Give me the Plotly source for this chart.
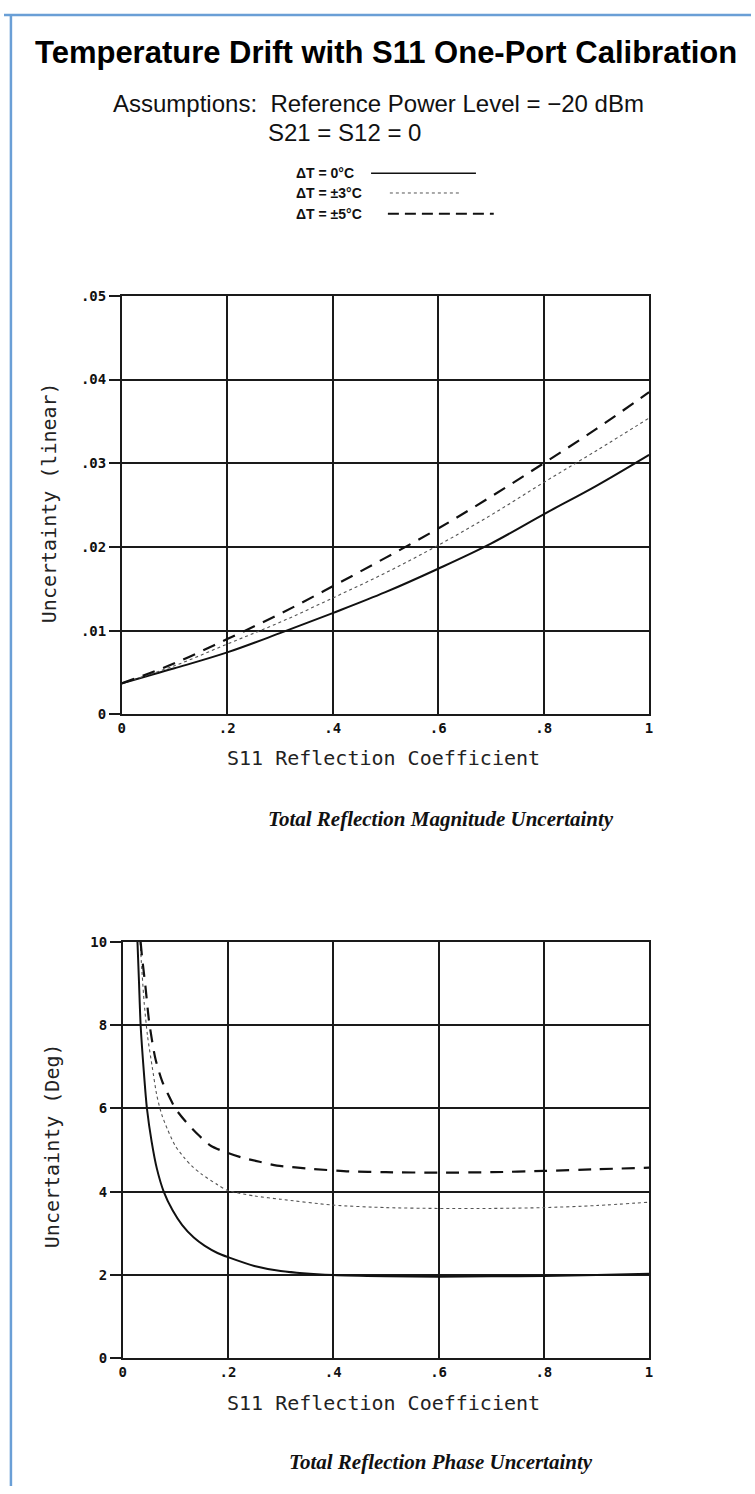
import plotly.graph_objects as go

# ---------------- data ----------------
mag_x = [0, .1, .2, .3, .4, .5, .6, .7, .8, .9, 1.0]
mag_dt0 = [.0037, .0055, .0074, .0097, .0121, .0146, .0174, .0204, .0239, .0273, .0310]
mag_dt3 = [.0037, .0058, .0084, .0110, .0139, .0169, .0202, .0238, .0277, .0315, .0354]
mag_dt5 = [.0037, .0061, .0090, .0120, .0153, .0187, .0222, .0260, .0300, .0341, .0385]

ph_x0 = [.028, .031, .034, .040, .046, .055, .065, .078, .095, .113, .135, .156, .18, .2, .25, .3, .4, .5, .6, .7, .8, .9, 1.0]
ph_dt0 = [10, 9.0, 8.0, 6.9, 6.0, 5.2, 4.55, 4.0, 3.55, 3.2, 2.9, 2.7, 2.53, 2.43, 2.22, 2.1, 2.0, 1.97, 1.96, 1.97, 1.98, 2.0, 2.03]
ph_x3 = [.033, .037, .041, .047, .056, .065, .074, .085, .1, .118, .131, .149, .18, .2, .25, .3, .4, .5, .6, .7, .8, .9, 1.0]
ph_dt3 = [10, 9.2, 8.5, 7.75, 7.0, 6.3, 5.86, 5.5, 5.1, 4.8, 4.62, 4.43, 4.17, 4.03, 3.9, 3.82, 3.68, 3.62, 3.6, 3.6, 3.62, 3.67, 3.75]
ph_x5 = [.034, .037, .043, .05, .062, .075, .085, .1, .12, .145, .168, .2, .224, .26, .293, .36, .43, .5, .6, .7, .8, .9, 1.0]
ph_dt5 = [10, 9.6, 8.95, 8.1, 7.2, 6.65, 6.37, 6.0, 5.68, 5.35, 5.1, 4.93, 4.83, 4.72, 4.63, 4.55, 4.49, 4.47, 4.46, 4.47, 4.5, 4.54, 4.58]

x_tickvals = [0, .2, .4, .6, .8, 1]
x_ticktext = ["0", ".2", ".4", ".6", ".8", "1"]
mag_tickvals = [0, .01, .02, .03, .04, .05]
mag_ticktext = ["0", ".01", ".02", ".03", ".04", ".05"]
ph_tickvals = [0, 2, 4, 6, 8, 10]
ph_ticktext = ["0", "2", "4", "6", "8", "10"]

legend_labels = ["ΔT = 0°C", "ΔT = ±3°C", "ΔT = ±5°C"]

# ---------------- figure ----------------
W, H = 755, 1494
def px_x(p): return p / W
def px_y(p): return 1 - p / H

solid = dict(color="#111111", width=2)
dotted = dict(color="#555555", width=1.1, dash="dot")
dashed = dict(color="#111111", width=2.2, dash="13px,9px")

fig = go.Figure()
fig.add_trace(go.Scatter(x=mag_x, y=mag_dt0, mode="lines", line=dict(shape="spline", **solid), xaxis="x", yaxis="y", showlegend=False))
fig.add_trace(go.Scatter(x=mag_x, y=mag_dt3, mode="lines", line=dict(shape="spline", **dotted), xaxis="x", yaxis="y", showlegend=False))
fig.add_trace(go.Scatter(x=mag_x, y=mag_dt5, mode="lines", line=dict(shape="spline", **dashed), xaxis="x", yaxis="y", showlegend=False))

fig.add_trace(go.Scatter(x=ph_x0, y=ph_dt0, mode="lines", line=dict(shape="spline", smoothing=0.7, **solid), xaxis="x2", yaxis="y2", showlegend=False))
fig.add_trace(go.Scatter(x=ph_x3, y=ph_dt3, mode="lines", line=dict(shape="spline", smoothing=0.7, **dotted), xaxis="x2", yaxis="y2", showlegend=False))
fig.add_trace(go.Scatter(x=ph_x5, y=ph_dt5, mode="lines", line=dict(shape="spline", smoothing=0.7, **dashed), xaxis="x2", yaxis="y2", showlegend=False))

tickfont = dict(family="DejaVu Sans Mono", size=14, color="#111111", weight="bold")
gridc = "#1a1a1a"
common_x = dict(range=[0, 1], tickvals=x_tickvals, ticktext=x_ticktext, showgrid=True,
                gridcolor=gridc, gridwidth=1.5, showline=True, linecolor=gridc, linewidth=1.5,
                mirror=True, ticks="", tickfont=tickfont, zeroline=False, fixedrange=True)
common_y = dict(showgrid=True, gridcolor=gridc, gridwidth=1.5, showline=True, linecolor=gridc,
                linewidth=1.5, mirror=True, ticks="outside", ticklen=11, tickwidth=1.5,
                tickcolor=gridc, tickfont=tickfont, zeroline=False, fixedrange=True)

fig.update_layout(
    width=W, height=H, margin=dict(l=0, r=0, t=0, b=0),
    paper_bgcolor="white", plot_bgcolor="white",
    xaxis=dict(domain=[px_x(119), px_x(652)], anchor="y", **common_x),
    yaxis=dict(domain=[px_y(714), px_y(291)], anchor="x", range=[0, 0.05],
               tickvals=mag_tickvals, ticktext=mag_ticktext, **common_y),
    xaxis2=dict(domain=[px_x(120), px_x(652)], anchor="y2", **common_x),
    yaxis2=dict(domain=[px_y(1365), px_y(944)], anchor="x2", range=[0, 10],
                tickvals=ph_tickvals, ticktext=ph_ticktext, **common_y),
)

ann = []
def text(x, y, s, size, family, color="#111111", xanchor="center", textangle=0, weight="normal", style="normal"):
    ann.append(dict(x=px_x(x), y=px_y(y), xref="paper", yref="paper", text=s, showarrow=False,
                    xanchor=xanchor, yanchor="middle", textangle=textangle,
                    font=dict(size=size, family=family, color=color, weight=weight, style=style)))

text(386, 45, "Temperature Drift with S11 One-Port Calibration", 31, "Liberation Sans", color="#000000", weight="bold")
text(108, 97, "Assumptions:  Reference Power Level = −20 dBm", 24, "Liberation Sans", xanchor="left")
text(265, 126, "S21 = S12 = 0", 24, "Liberation Sans", xanchor="left")

leg_y = [167, 187, 208]
for lab, yy in zip(legend_labels, leg_y):
    text(293, yy, lab, 14, "Liberation Sans", xanchor="left", weight="bold")

mono = "DejaVu Sans Mono"
text(384, 758, "S11 Reflection Coefficient", 20, mono, color="#222222")
text(45, 500, "Uncertainty (linear)", 20, mono, color="#222222", textangle=-90)
text(384, 1410, "S11 Reflection Coefficient", 20, mono, color="#222222")
text(48, 1150, "Uncertainty (Deg)", 20, mono, color="#222222", textangle=-90)

text(442, 820, "Total Reflection Magnitude Uncertainty", 21, "Liberation Serif", weight="bold", style="italic")
text(442, 1470, "Total Reflection Phase Uncertainty", 21, "Liberation Serif", weight="bold", style="italic")

fig.update_layout(annotations=ann)

shapes = []
# legend line samples (legend decoration)
shapes.append(dict(type="line", xref="paper", yref="paper", x0=px_x(371), x1=px_x(477), y0=px_y(167), y1=px_y(167), line=dict(color="#111111", width=1.5)))
shapes.append(dict(type="line", xref="paper", yref="paper", x0=px_x(390), x1=px_x(460), y0=px_y(187), y1=px_y(187), line=dict(color="#555555", width=1, dash="dot")))
shapes.append(dict(type="line", xref="paper", yref="paper", x0=px_x(388), x1=px_x(495), y0=px_y(208), y1=px_y(208), line=dict(color="#111111", width=1.8, dash="11px,6px")))
# page frame (blue border on top and left)
shapes.append(dict(type="line", xref="paper", yref="paper", x0=0, x1=1, y0=px_y(7), y1=px_y(7), line=dict(color="#6a9fd6", width=2.5)))
shapes.append(dict(type="line", xref="paper", yref="paper", x0=px_x(7), x1=px_x(7), y0=0, y1=px_y(6), line=dict(color="#6a9fd6", width=2.5)))
fig.update_layout(shapes=shapes)

fig.write_html("out.html")
